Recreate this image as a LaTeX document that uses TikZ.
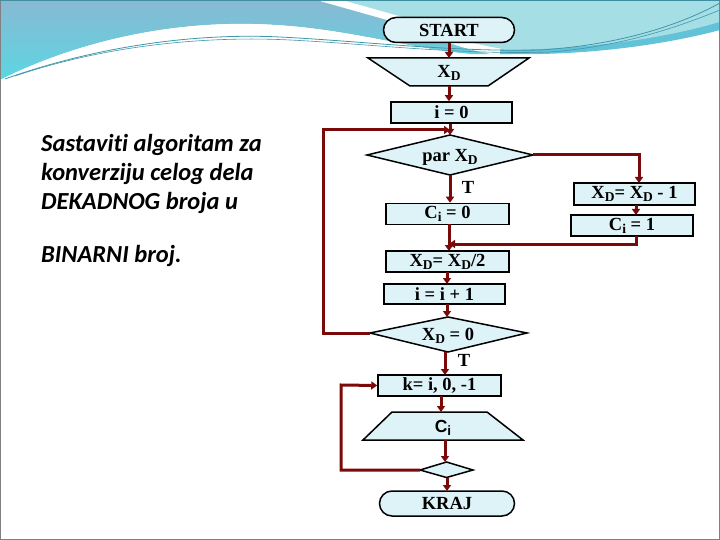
\documentclass[tikz,border=0pt]{standalone}
\usepackage{fontspec}
\setmainfont{Liberation Serif}
\newfontfamily\leftfont[Ligatures=NoCommon]{Carlito}
\newfontfamily\sansfam{Liberation Sans}
\usetikzlibrary{arrows.meta}
\definecolor{boxfill}{HTML}{DDF3F8}
\definecolor{arrowred}{HTML}{7A0A0A}
\definecolor{bgtop}{HTML}{88B9D3}
\definecolor{bgbot}{HTML}{5CD6E2}
\definecolor{bgright}{HTML}{A6DEE6}
\definecolor{bgband}{HTML}{62C2D8}
\definecolor{thinline}{HTML}{3F97AA}
\definecolor{topedge}{HTML}{3F8FA0}
\newcommand\subtx[1]{\raisebox{-0.35ex}{\fontsize{13.5}{13.5}\selectfont #1}}
\begin{document}
\begin{tikzpicture}[x=1pt,y=-1pt,
  boxtxt/.style={font=\fontsize{18.5}{20}\selectfont\bfseries},
  box/.style={boxtxt,draw=black,line width=1.5pt,fill=boxfill,minimum height=21pt,inner sep=0pt},
  term/.style={box,rounded corners=12.5pt,minimum height=25pt},
  shapeline/.style={draw=black,line width=1.5pt,fill=boxfill,line join=miter},
  txt/.style={boxtxt,inner sep=0pt},
  arr/.style={draw=arrowred,line width=3pt,-{Triangle[length=6pt,width=8pt]}},
  lefttxt/.style={font=\leftfont\fontsize{24.5}{29}\selectfont\bfseries\itshape,anchor=base west,inner sep=0pt}
]
\useasboundingbox (0,0) rectangle (720,540);
% background decoration
\fill[white] (0,0) rectangle (720,540);
\shade[top color=bgtop,bottom color=bgbot] (0,0) -- (720,0) -- (720,25)
  .. controls (640,45) and (560,56) .. (470,54)
  .. controls (400,48) and (330,22) .. (230,24)
  .. controls (140,26) and (60,50) .. (0,80) -- cycle;
\fill[bgright] (335,0) -- (720,0) -- (720,22)
  .. controls (660,40) and (580,50) .. (500,50)
  .. controls (460,44) and (430,30) .. (400,18) -- cycle;
\fill[bgband] (720,22) .. controls (660,40) and (580,50) .. (500,50)
  -- (500,54) .. controls (580,56) and (660,46) .. (720,30) -- cycle;
\draw[white,line width=7pt] (322,-2) -- (400,20) .. controls (430,32) and (460,46) .. (500,52);
\fill[white] (0,80) .. controls (60,50) and (140,26) .. (230,24)
  .. controls (330,22) and (400,48) .. (470,54) -- (470,70) -- (0,90) -- cycle;
\draw[thinline,line width=0.8pt] (5,79) .. controls (100,45) and (200,33) .. (280,37)
  .. controls (360,41) and (450,52) .. (540,50) .. controls (620,45) and (680,25) .. (720,3);
\draw[thinline,line width=0.6pt] (15,76) .. controls (110,44) and (210,36) .. (290,40)
  .. controls (370,44) and (460,55) .. (550,52) .. controls (630,46) and (690,22) .. (720,10);
\draw[gray,line width=1pt] (0.5,0.5) rectangle (719.5,539.5);
\draw[topedge,line width=1pt] (0,0.5) -- (720,0.5);

% left text
\node[lefttxt] (t1) at (41,152) {Sastaviti algoritam za};
\node[lefttxt] (t2) at (41,181) {konverziju celog dela};
\node[lefttxt] (t3) at (41,209.5) {DEKADNOG broja u};
\node[lefttxt] (t4) at (41,262) {BINARNI broj.};

% flowchart nodes
\node[term,minimum width=131pt] (start) at (449,30) {START};

\draw[shapeline] (368,58) -- (529,58) -- (488,86) -- (410,86) -- cycle;
\node[txt] (xd) at (449,73) {X\subtx{D}};
\coordinate (xdtop) at (449,58);
\coordinate (xdbot) at (449,86);

\node[box,minimum width=121pt] (i0) at (451.5,112.5) {i = 0};

\draw[shapeline] (367,155) -- (450,135) -- (533,155) -- (450,175) -- cycle;
\node[txt] (par) at (450,157) {par X\subtx{D}};
\coordinate (partop) at (450,135);
\coordinate (parbot) at (450,175);
\coordinate (parleft) at (367,155);
\coordinate (parright) at (533,155);

\node[box,minimum width=123pt] (ci0) at (447.5,214) {C\subtx{i} = 0};
\node[box,minimum width=121pt,minimum height=22pt] (xdm1) at (634.5,194) {X\subtx{D}= X\subtx{D} - 1};
\node[box,minimum width=122pt] (ci1) at (632,225.5) {C\subtx{i} = 1};
\node[box,minimum width=123pt] (xd2) at (447.5,261.5) {X\subtx{D}= X\subtx{D}/2};
\node[box,minimum width=121pt,minimum height=20pt] (inc) at (444.5,294) {i = i + 1};

\draw[shapeline] (370,333) -- (448,317) -- (527,333) -- (448,352) -- cycle;
\node[txt] (xd0) at (448,336) {X\subtx{D} = 0};
\coordinate (xd0top) at (447,317);
\coordinate (xd0bot) at (445,352);
\coordinate (xd0left) at (370,333);

\node[box,minimum width=123pt] (k) at (439.5,385.5) {k= i, 0, -1};

\draw[shapeline] (392,412) -- (487,412) -- (523,440) -- (363,440) -- cycle;
\node[inner sep=0pt,font=\sansfam\fontsize{17.5}{19}\selectfont\bfseries] (out) at (443,428) {C\subtx{i}};
\coordinate (outtop) at (441,412);
\coordinate (outbot) at (445,440);

\draw[shapeline] (420,470) -- (446.5,462) -- (473,470) -- (446.5,477.5) -- cycle;
\coordinate (dtop) at (445,462);
\coordinate (dbot) at (447,477.5);
\coordinate (dleft) at (420,470);

\node[term,minimum width=135pt] (kraj) at (447,503.5) {KRAJ};

% labels
\node[txt] (tl1) at (468,187) {T};
\node[txt] (tl2) at (464,360) {T};

% connectors
\draw[arr] (start.south -| xdtop) -- (xdtop);
\draw[arr] (xdbot) -- (xdbot |- i0.north);
\draw[arr] (i0.south -| partop) -- (partop);
\draw[arr] (parbot) -- (parbot |- ci0.north);
\draw[arr] (parright) -- (639,155) -- (639,183);
\draw[arr] (636,205) -- (636,215);
\draw[arr] (636,236) -- (636,244) -- (449,244);
\draw[arr] (449,224) -- (449,251);
\draw[arr] (447,272) -- (447,284);
\draw[arr] (447,304) -- (xd0top);
\draw[arr] (xd0left) -- (323,333) -- (323,130) -- (450,130);
\draw[arr] (xd0bot) -- (445,375);
\draw[arr] (441,396) -- (outtop);
\draw[arr] (outbot) -- (dtop);
\draw[arr] (dleft) -- (341,470) -- (341,385) -- (k.west);
\draw[arr] (dbot) -- (447,491);
\end{tikzpicture}
\end{document}
